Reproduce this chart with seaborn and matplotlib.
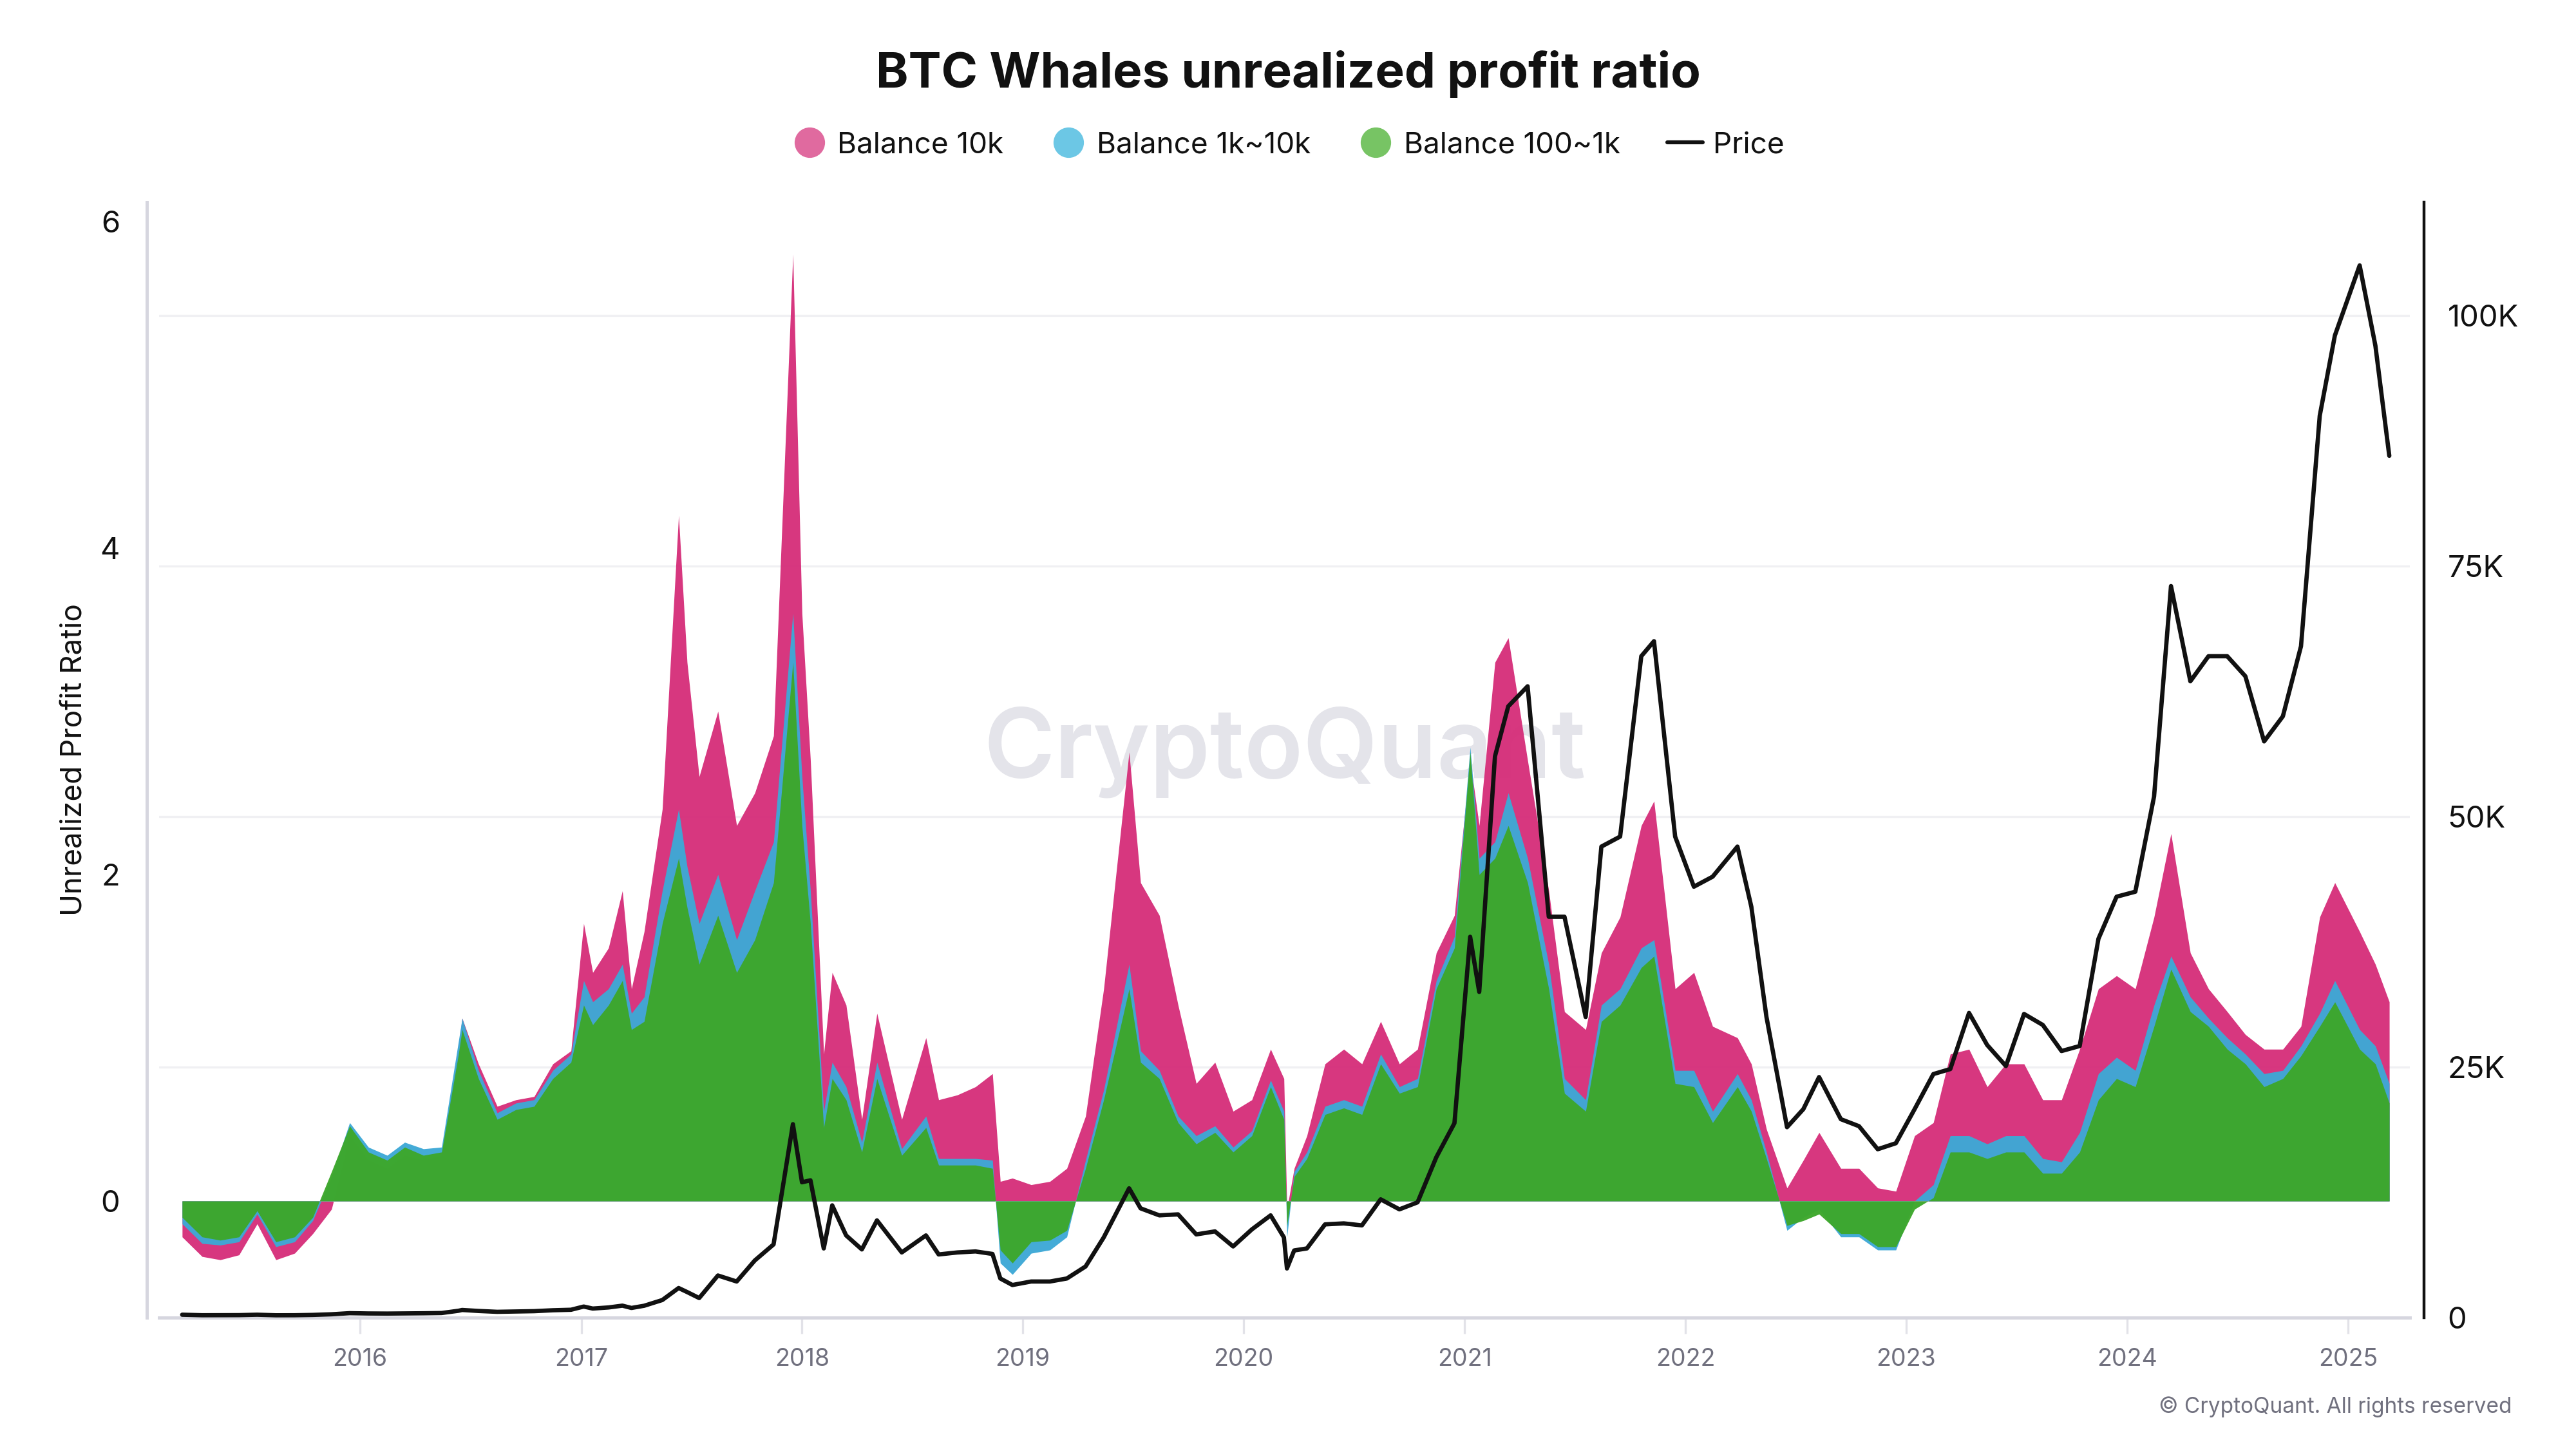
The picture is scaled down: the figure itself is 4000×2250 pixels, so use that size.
import numpy as np
import pandas as pd
import matplotlib
matplotlib.use("Agg")
import matplotlib.pyplot as plt
import matplotlib.dates as mdates
from matplotlib.lines import Line2D
from matplotlib.ticker import FuncFormatter
import seaborn as sns

# ---------------- data ----------------
dates = [
    "2015-03-13", "2015-04-15", "2015-05-15", "2015-06-15", "2015-07-15", "2015-08-15",
    "2015-09-15", "2015-10-15", "2015-11-15", "2015-12-15",
    "2016-01-15", "2016-02-15", "2016-03-15", "2016-04-15", "2016-05-15", "2016-06-12",
    "2016-06-18", "2016-07-15", "2016-08-15", "2016-09-15", "2016-10-15", "2016-11-15",
    "2016-12-15",
    "2017-01-05", "2017-01-20", "2017-02-15", "2017-03-10", "2017-03-25", "2017-04-15",
    "2017-05-15", "2017-06-11", "2017-06-25", "2017-07-15", "2017-08-15", "2017-09-15",
    "2017-10-15", "2017-11-15", "2017-12-17",
    "2018-01-01", "2018-01-15", "2018-02-06", "2018-02-20", "2018-03-15", "2018-04-10",
    "2018-05-05", "2018-06-15", "2018-07-25", "2018-08-15", "2018-09-15", "2018-10-15",
    "2018-11-12", "2018-11-25", "2018-12-15",
    "2019-01-15", "2019-02-15", "2019-03-15", "2019-04-15", "2019-05-15", "2019-06-26",
    "2019-07-15", "2019-08-15", "2019-09-15", "2019-10-15", "2019-11-15", "2019-12-15",
    "2020-01-15", "2020-02-15", "2020-03-08", "2020-03-13", "2020-03-25", "2020-04-15",
    "2020-05-15", "2020-06-15", "2020-07-15", "2020-08-15", "2020-09-15", "2020-10-15",
    "2020-11-15", "2020-12-15",
    "2021-01-10", "2021-01-25", "2021-02-20", "2021-03-14", "2021-04-15", "2021-05-20",
    "2021-06-15", "2021-07-20", "2021-08-15", "2021-09-15", "2021-10-20", "2021-11-10",
    "2021-12-15",
    "2022-01-15", "2022-02-15", "2022-03-28", "2022-04-20", "2022-05-15", "2022-06-18",
    "2022-07-15", "2022-08-10", "2022-09-15", "2022-10-15", "2022-11-15", "2022-12-15",
    "2023-01-15", "2023-02-15", "2023-03-15", "2023-04-15", "2023-05-15", "2023-06-15",
    "2023-07-15", "2023-08-15", "2023-09-15", "2023-10-15", "2023-11-15", "2023-12-15",
    "2024-01-15", "2024-02-15", "2024-03-14", "2024-04-15", "2024-05-15", "2024-06-15",
    "2024-07-15", "2024-08-15", "2024-09-15", "2024-10-15", "2024-11-15", "2024-12-10",
    "2025-01-20", "2025-02-15", "2025-03-10",
]

balance_10k = [
    -0.22, -0.34, -0.36, -0.33, -0.14, -0.36, -0.32, -0.20, -0.05, 0.40,
    0.25, 0.20, 0.28, 0.25, 0.28, 0.95, 1.12, 0.84, 0.58, 0.62, 0.64, 0.84, 0.92,
    1.70, 1.40, 1.55, 1.90, 1.30, 1.65, 2.40, 4.20, 3.30, 2.60, 3.00, 2.30, 2.50, 2.85, 5.80,
    3.60, 2.70, 0.90, 1.40, 1.20, 0.50, 1.15, 0.50, 1.00, 0.62, 0.65, 0.70, 0.78, 0.12, 0.14,
    0.10, 0.12, 0.20, 0.52, 1.30, 2.75, 1.95, 1.75, 1.20, 0.72, 0.85, 0.55,
    0.62, 0.93, 0.75, -0.05, 0.20, 0.40, 0.84, 0.93, 0.84, 1.10, 0.84, 0.93, 1.52, 1.75,
    2.70, 2.30, 3.30, 3.45, 2.70, 1.90, 1.16, 1.05, 1.52, 1.74, 2.30, 2.45, 1.30,
    1.40, 1.07, 1.00, 0.84, 0.44, 0.08, 0.25, 0.42, 0.20, 0.20, 0.08, 0.06,
    0.40, 0.48, 0.90, 0.93, 0.70, 0.84, 0.84, 0.62, 0.62, 0.93, 1.30, 1.38,
    1.30, 1.74, 2.25, 1.52, 1.30, 1.16, 1.02, 0.93, 0.93, 1.07, 1.74, 1.95,
    1.65, 1.45, 1.22,
]

balance_1k_10k = [
    -0.14, -0.26, -0.27, -0.25, -0.08, -0.28, -0.25, -0.12, 0.15, 0.48,
    0.33, 0.28, 0.36, 0.32, 0.33, 0.98, 1.12, 0.80, 0.54, 0.60, 0.62, 0.80, 0.90,
    1.35, 1.22, 1.30, 1.45, 1.15, 1.25, 1.90, 2.40, 2.05, 1.70, 2.00, 1.60, 1.90, 2.20, 3.60,
    2.60, 1.90, 0.55, 0.85, 0.70, 0.36, 0.85, 0.32, 0.52, 0.26, 0.26, 0.26, 0.25, -0.38, -0.45,
    -0.32, -0.30, -0.22, 0.25, 0.68, 1.45, 0.92, 0.80, 0.52, 0.40, 0.46, 0.33,
    0.43, 0.74, 0.55, -0.22, 0.18, 0.30, 0.58, 0.62, 0.58, 0.90, 0.70, 0.75, 1.35, 1.62,
    2.78, 2.10, 2.20, 2.50, 2.10, 1.45, 0.75, 0.62, 1.20, 1.30, 1.55, 1.60, 0.80,
    0.80, 0.55, 0.78, 0.62, 0.30, -0.18, -0.10, -0.05, -0.22, -0.22, -0.30, -0.30,
    0.00, 0.10, 0.40, 0.40, 0.35, 0.40, 0.40, 0.26, 0.24, 0.42, 0.78, 0.88,
    0.80, 1.20, 1.50, 1.25, 1.12, 1.00, 0.90, 0.78, 0.80, 0.95, 1.15, 1.35,
    1.05, 0.95, 0.72,
]

balance_100_1k = [
    -0.10, -0.22, -0.24, -0.22, -0.06, -0.25, -0.22, -0.10, 0.18, 0.46,
    0.30, 0.25, 0.33, 0.28, 0.30, 0.90, 1.05, 0.75, 0.50, 0.56, 0.58, 0.75, 0.85,
    1.20, 1.08, 1.20, 1.35, 1.05, 1.10, 1.70, 2.10, 1.80, 1.45, 1.75, 1.40, 1.60, 1.95, 3.30,
    2.30, 1.70, 0.45, 0.75, 0.62, 0.30, 0.75, 0.28, 0.45, 0.22, 0.22, 0.22, 0.20, -0.30, -0.38,
    -0.25, -0.24, -0.18, 0.20, 0.62, 1.30, 0.85, 0.75, 0.48, 0.35, 0.42, 0.30,
    0.40, 0.70, 0.50, -0.15, 0.15, 0.26, 0.53, 0.57, 0.53, 0.84, 0.66, 0.70, 1.30, 1.55,
    2.75, 2.00, 2.10, 2.30, 1.95, 1.30, 0.66, 0.55, 1.10, 1.20, 1.43, 1.50, 0.72,
    0.70, 0.48, 0.70, 0.55, 0.26, -0.15, -0.12, -0.08, -0.20, -0.20, -0.28, -0.28,
    -0.05, 0.02, 0.30, 0.30, 0.26, 0.30, 0.30, 0.17, 0.17, 0.30, 0.62, 0.75,
    0.70, 1.07, 1.42, 1.16, 1.07, 0.93, 0.84, 0.70, 0.75, 0.89, 1.07, 1.22,
    0.93, 0.84, 0.60,
]

price = [
    285, 235, 237, 245, 285, 230, 235, 265, 330, 440,
    410, 400, 415, 430, 455, 680, 760, 660, 575, 605, 640, 730, 780,
    1100, 900, 1010, 1190, 960, 1180, 1750, 2950, 2550, 1950, 4200, 3600, 5700, 7300, 19300,
    13500, 13700, 6900, 11200, 8200, 6800, 9700, 6500, 8200, 6300, 6500, 6600, 6350, 3900, 3250,
    3600, 3600, 3900, 5100, 8000, 12900, 10900, 10200, 10300, 8300, 8600, 7100,
    8800, 10200, 8000, 4900, 6700, 6900, 9300, 9400, 9200, 11800, 10800, 11500, 16000, 19400,
    38000, 32500, 56000, 61000, 63000, 40000, 40000, 30000, 47000, 48000, 66000, 67500, 48000,
    43000, 44000, 47000, 41000, 30000, 19000, 20800, 24000, 19800, 19100, 16800, 17400,
    20800, 24300, 24800, 30400, 27200, 25100, 30300, 29200, 26600, 27100, 37800, 42000,
    42500, 52000, 73000, 63500, 66000, 66000, 64000, 57500, 60000, 67000, 90000, 98000,
    105000, 97000, 86000,
]

series_names = ["Balance 10k", "Balance 1k~10k", "Balance 100~1k", "Price"]
ratio_ticks = [0, 2, 4, 6]
price_ticks = [0, 25000, 50000, 75000, 100000]

# ---------------- style ----------------
sns.set_theme(style="white")
plt.rcParams["font.family"] = ["Inter", "DejaVu Sans"]

fill_colors = ["#d6307b", "#3ea8d6", "#3da72b"]
legend_colors = ["#e06a9f", "#6cc7e5", "#77c464"]
grey_text = "#70707e"
axis_grey = "#d6d6df"

df = pd.DataFrame({
    "date": pd.to_datetime(dates),
    "b10k": balance_10k,
    "b1k": balance_1k_10k,
    "b100": balance_100_1k,
    "price": price,
})

fig = plt.figure(figsize=(20, 11.25), dpi=200)
ax = fig.add_axes([0.0618, 0.0907, 0.8737, 0.7697])
ax2 = ax.twinx()

ylo, yhi = -0.714, 6.118
pmax = 111300
ax.set_ylim(ylo, yhi)
ax2.set_ylim(0, pmax)
xlim = (pd.Timestamp("2015-02-03"), pd.Timestamp("2025-04-13"))
ax.set_xlim(*xlim)

# area series (overlapping, each from zero)
for col, c, z in zip(["b10k", "b1k", "b100"], fill_colors, [2, 3, 4]):
    ax.fill_between(df["date"], 0, df[col], color=c, lw=0, alpha=0.97, zorder=z)

# price line
sns.lineplot(data=df, x="date", y="price", ax=ax2, color="#111111", lw=2.4, legend=False)
ax2.set_xlim(*xlim)

# gridlines that follow the price axis, drawn under the areas
grid_pos = [ylo + p / pmax * (yhi - ylo) for p in price_ticks[1:]]
ax.set_yticks(grid_pos, minor=True)
ax.grid(which="minor", axis="y", color="#f0f0f3", lw=1.2, zorder=0)
ax.grid(which="major", visible=False)
ax.set_axisbelow(True)
ax.tick_params(axis="y", which="minor", length=0)

# watermark
ax.text(0.5, 0.507, "CryptoQuant", transform=ax.transAxes, ha="center", va="center",
        fontsize=54, color="#e4e4ea", fontweight="semibold", zorder=0.5)

# left axis
ax.set_yticks(ratio_ticks)
ax.set_yticklabels([str(t) for t in ratio_ticks])
ax.tick_params(axis="y", which="major", labelsize=17, labelcolor="#111111", length=0, pad=15)
ax.set_ylabel("Unrealized Profit Ratio", fontsize=16.5, color="#111111", ha="center", va="center")
ax.yaxis.set_label_coords(-0.0378, 0.5)

# right axis
ax2.set_yticks(price_ticks)
ax2.yaxis.set_major_formatter(FuncFormatter(lambda v, _: "0" if v == 0 else f"{int(v/1000)}K"))
ax2.tick_params(axis="y", labelsize=17, labelcolor="#111111", length=0, pad=13)
ax2.set_ylabel("")
ax2.set_xlabel("")
ax2.grid(False)

# x axis
ax.xaxis.set_major_locator(mdates.YearLocator())
ax.xaxis.set_major_formatter(mdates.DateFormatter("%Y"))
ax.tick_params(axis="x", labelsize=13.5, labelcolor=grey_text, color="#e2e2e8",
               length=9, width=1.2, direction="out", pad=8, bottom=True)
ax.set_xlabel("")

# spines
for s in ["top", "right"]:
    ax.spines[s].set_visible(False)
ax.spines["left"].set_color(axis_grey)
ax.spines["left"].set_linewidth(1.8)
ax.spines["left"].set_position(("outward", 7))
ax.spines["bottom"].set_color(axis_grey)
ax.spines["bottom"].set_linewidth(1.8)
for s in ["top", "left", "bottom"]:
    ax2.spines[s].set_visible(False)
ax2.spines["right"].set_color("#111111")
ax2.spines["right"].set_linewidth(1.6)
ax2.spines["right"].set_position(("outward", 8))

# title + legend
fig.text(0.5, 0.949, "BTC Whales unrealized profit ratio", ha="center", va="center",
         fontsize=27.5, fontweight="bold", color="#111111")
handles = [Line2D([], [], ls="none", marker="o", markersize=16, markerfacecolor=c,
                  markeredgecolor=c) for c in legend_colors]
handles.append(Line2D([], [], color="#111111", lw=2.2))
fig.legend(handles, series_names, loc="center", bbox_to_anchor=(0.5, 0.9), ncol=4,
           frameon=False, fontsize=16.5, handletextpad=0.35, columnspacing=1.6,
           handlelength=1.2, labelcolor="#111111")

fig.text(0.975, 0.029, "\u00a9 CryptoQuant. All rights reserved", ha="right", va="center",
         fontsize=12, color=grey_text)

fig.savefig("out.png", dpi=200, facecolor="white")
